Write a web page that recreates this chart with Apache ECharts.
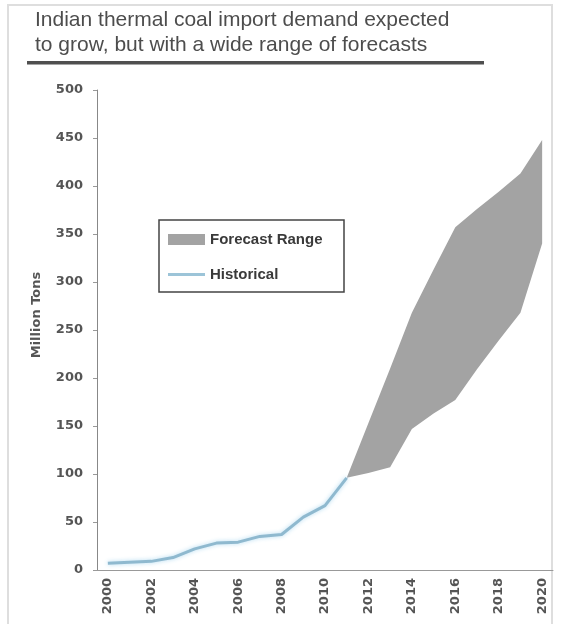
<!DOCTYPE html>
<html>
<head>
<meta charset="utf-8">
<script src="https://cdn.jsdelivr.net/npm/echarts@6/dist/echarts.min.js"></script>
<style>
  html, body { margin: 0; padding: 0; background: #fff; }
  #chart { width: 565px; height: 624px; }
</style>
</head>
<body>
<div id="chart"></div>
<script>
// Years on the horizontal axis
const years = ['2000','2001','2002','2003','2004','2005','2006','2007','2008','2009',
               '2010','2011','2012','2013','2014','2015','2016','2017','2018','2019','2020'];

// Historical imports, million tons (2000-2011)
const historical = [7, 8, 9, 13, 22, 28, 29, 35, 37, 55, 67, 96];

// Forecast envelope, million tons (2011-2020)
const forecastLow  = [96, 101, 107, 147, 163, 177, 209, 239, 268, 340];
const forecastHigh = [96, 153, 210, 268, 313, 357, 376, 394, 413, 448];

// Y-axis ticks
const yTicks = { min: 0, max: 500, step: 50 };

const forecastStart = years.indexOf('2011');
const pad = n => new Array(n).fill(null);
const lowSeries = pad(forecastStart).concat(forecastLow);
const bandSeries = pad(forecastStart).concat(forecastHigh.map((v, i) => v - forecastLow[i]));
const histSeries = historical.concat(pad(years.length - historical.length));

const axisFont = { fontFamily: 'DejaVu Sans', fontWeight: 'bold', fontSize: 13, color: '#555' };

const chart = echarts.init(document.getElementById('chart'), null, { renderer: 'canvas' });
chart.setOption({
  animation: false,
  backgroundColor: '#fff',
  title: {
    text: 'Indian thermal coal import demand expected\nto grow, but with a wide range of forecasts',
    left: 35,
    top: 8,
    padding: 0,
    textStyle: {
      fontFamily: 'Liberation Sans',
      fontWeight: 'normal',
      fontSize: 21,
      lineHeight: 25,
      color: '#4d4d4d'
    }
  },
  graphic: [
    // outer frame
    { type: 'rect', z: -10, silent: true,
      shape: { x: 8, y: 5, width: 544, height: 630 },
      style: { fill: 'none', stroke: '#dedede', lineWidth: 2 } },
    // rule beneath the heading
    { type: 'rect', silent: true,
      shape: { x: 27, y: 61, width: 457, height: 3.5 },
      style: { fill: '#4f4f4f' } },
    // legend frame
    { type: 'rect', silent: true, z: 0,
      shape: { x: 159, y: 220, width: 185, height: 72 },
      style: { fill: '#fff', stroke: '#444', lineWidth: 1.5 } },
    // y-axis title
    { type: 'text', silent: true,
      x: 37, y: 315, rotation: Math.PI / 2,
      style: {
        text: 'Million Tons', fill: '#555',
        font: 'bold 13px "DejaVu Sans"',
        align: 'center', verticalAlign: 'middle'
      } }
  ],
  legend: {
    orient: 'vertical',
    left: 168,
    top: 232,
    padding: 0,
    itemWidth: 37,
    itemHeight: 11,
    itemGap: 20,
    z: 10,
    textStyle: {
      fontFamily: 'Liberation Sans',
      fontWeight: 'bold',
      fontSize: 15,
      lineHeight: 15,
      color: '#3a3a3a'
    },
    data: [
      { name: 'Forecast Range', icon: 'rect' },
      { name: 'Historical', icon: 'path://M0,0 L37,0 L37,3 L0,3 Z' }
    ]
  },
  grid: { left: 97, right: 12, top: 90, bottom: 54, containLabel: false },
  xAxis: {
    type: 'category',
    data: years,
    boundaryGap: true,
    axisLine: { lineStyle: { color: '#999', width: 1 } },
    axisTick: { interval: 1, length: 3, lineStyle: { color: '#999' } },
    axisLabel: Object.assign({ interval: 1, rotate: 90, margin: 8 }, axisFont),
    splitLine: { show: false }
  },
  yAxis: {
    type: 'value',
    min: yTicks.min,
    max: yTicks.max,
    interval: yTicks.step,
    axisLine: { show: true, lineStyle: { color: '#888', width: 1 } },
    axisTick: { show: true, length: 4, lineStyle: { color: '#999' } },
    axisLabel: Object.assign({ margin: 14 }, axisFont),
    splitLine: { show: false }
  },
  series: [
    {
      name: 'low',
      type: 'line',
      stack: 'range',
      data: lowSeries,
      symbol: 'none',
      lineStyle: { opacity: 0 },
      silent: true
    },
    {
      name: 'Forecast Range',
      type: 'line',
      stack: 'range',
      data: bandSeries,
      symbol: 'none',
      color: '#a3a3a3',
      lineStyle: { opacity: 0 },
      areaStyle: { color: '#a3a3a3', opacity: 1 }
    },
    {
      name: 'Historical',
      type: 'line',
      data: histSeries,
      symbol: 'none',
      color: '#9cc4d8',
      z: 5,
      lineStyle: { color: '#8fb9cf', width: 3, shadowBlur: 4, shadowColor: 'rgba(170,215,240,0.9)' }
    }
  ]
});
</script>
</body>
</html>
